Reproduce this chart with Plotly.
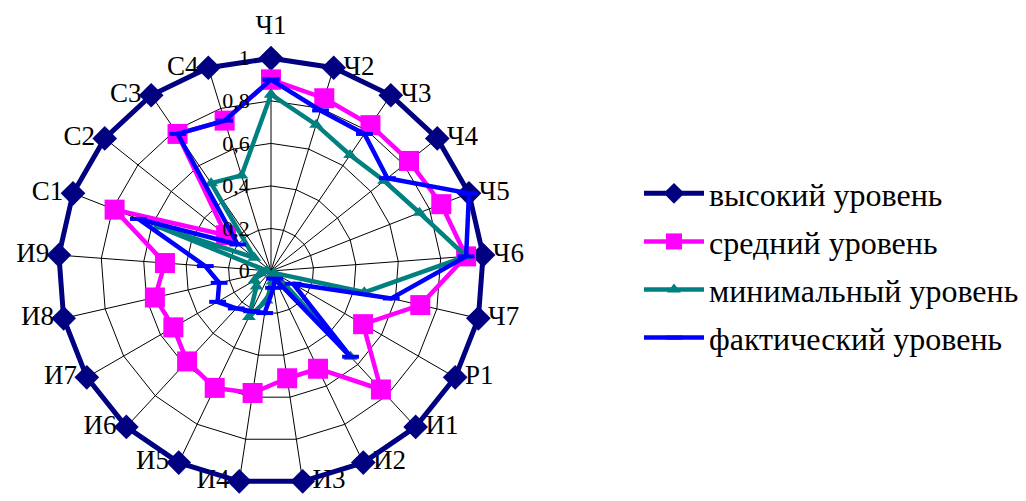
import plotly.graph_objects as go

categories = ["Ч1", "Ч2", "Ч3", "Ч4", "Ч5", "Ч6", "Ч7", "Р1",
              "И1", "И2", "И3", "И4", "И5", "И6", "И7", "И8", "И9",
              "С1", "С2", "С3", "С4"]

high = [1.0] * 21
medium = [0.90, 0.85, 0.83, 0.83, 0.86, 0.92, 0.72, 0.50,
          0.76, 0.51, 0.51, 0.58, 0.61, 0.58, 0.53, 0.56, 0.50,
          0.79, 0.27, 0.78, 0.74]
minimum = [0.83, 0.72, 0.66, 0.68, 0.75, 0.92, 0.45, 0.02,
           0.55, 0.02, 0.05, 0.14, 0.24, 0.10, 0.09, 0.05, 0.02,
           0.57, 0.10, 0.50, 0.47]
actual = [0.90, 0.79, 0.78, 0.70, 1.00, 0.92, 0.58, 0.12,
          0.55, 0.04, 0.08, 0.20, 0.21, 0.24, 0.29, 0.25, 0.31,
          0.67, 0.20, 0.78, 0.74]

tick_vals = [0, 0.2, 0.4, 0.6, 0.8, 1.0]
tick_text = ["0", "0,2", "0,4", "0,6", "0,8", "1"]

names = ["высокий уровень", "средний уровень", "минимальный уровень", "фактический уровень"]


def closed(v):
    return list(v) + [v[0]]


theta = closed(categories)

fig = go.Figure()

# category labels placed next to the outer (value 1) points (drawn first, under the data)
label_pos = []
label_gap = []
for i, c in enumerate(categories):
    if i == 0:
        label_pos.append("top center")
        label_gap.append(26)
    elif i <= 10:
        label_pos.append("middle right")
        label_gap.append(14)
    else:
        label_pos.append("middle left")
        label_gap.append(14)
fig.add_trace(go.Scatterpolar(
    r=high, theta=categories, mode="markers+text", text=categories,
    textposition=label_pos, cliponaxis=False, showlegend=False,
    hoverinfo="skip",
    marker=dict(size=label_gap, color="rgba(0,0,0,0)",
                line=dict(width=0, color="rgba(0,0,0,0)")),
    textfont=dict(size=27, family="Liberation Serif", color="black")))

fig.add_trace(go.Scatterpolar(
    r=closed(high), theta=theta, name=names[0], mode="lines+markers",
    legendgroup="g1",
    line=dict(color="#000080", width=5),
    marker=dict(symbol="diamond", size=19, color="#000080")))
fig.add_trace(go.Scatterpolar(
    r=closed(medium), theta=theta, name=names[1], mode="lines+markers",
    legendgroup="g2",
    line=dict(color="#FF00FF", width=4.5),
    marker=dict(symbol="square", size=20, color="#FF00FF")))
fig.add_trace(go.Scatterpolar(
    r=closed(minimum), theta=theta, name=names[2], mode="lines+markers",
    legendgroup="g3",
    line=dict(color="#008080", width=4.5),
    marker=dict(symbol="triangle-up", size=12, color="#008080")))
fig.add_trace(go.Scatterpolar(
    r=closed(actual), theta=theta, name=names[3], mode="lines+markers",
    legendgroup="g4",
    line=dict(color="#0000FF", width=4.5),
    marker=dict(symbol="line-ew", size=12, color="#0000FF",
                line=dict(color="#0000FF", width=4))))

cx, cy, rad = 263, 263, 218
fig.update_layout(
    width=1026, height=501,
    paper_bgcolor="white", plot_bgcolor="white",
    margin=dict(l=0, r=0, t=0, b=0),
    font=dict(family="Liberation Serif", color="black"),
    polar=dict(
        domain=dict(x=[(cx - rad) / 1026, (cx + rad) / 1026],
                    y=[(501 - cy - rad) / 501, (501 - cy + rad) / 501]),
        bgcolor="white",
        gridshape="linear",
        angularaxis=dict(
            rotation=90, direction="clockwise",
            showline=False, gridcolor="black", gridwidth=1.2,
            ticks="", showticklabels=False),
        radialaxis=dict(
            range=[0, 1.025], tickvals=tick_vals, ticktext=tick_text,
            angle=90, tickangle=90, side="counterclockwise",
            showline=False, gridcolor="black", gridwidth=1.2,
            ticks="outside", ticklen=13, tickcolor="rgba(0,0,0,0)",
            tickfont=dict(size=22, family="Liberation Serif")),
    ),
    legend=dict(
        x=0.615, y=0.486, xanchor="left", yanchor="middle",
        font=dict(size=32, family="Liberation Serif"),
        tracegroupgap=3.5, itemwidth=60, bgcolor="rgba(0,0,0,0)"),
)

fig.write_html("out.html")
